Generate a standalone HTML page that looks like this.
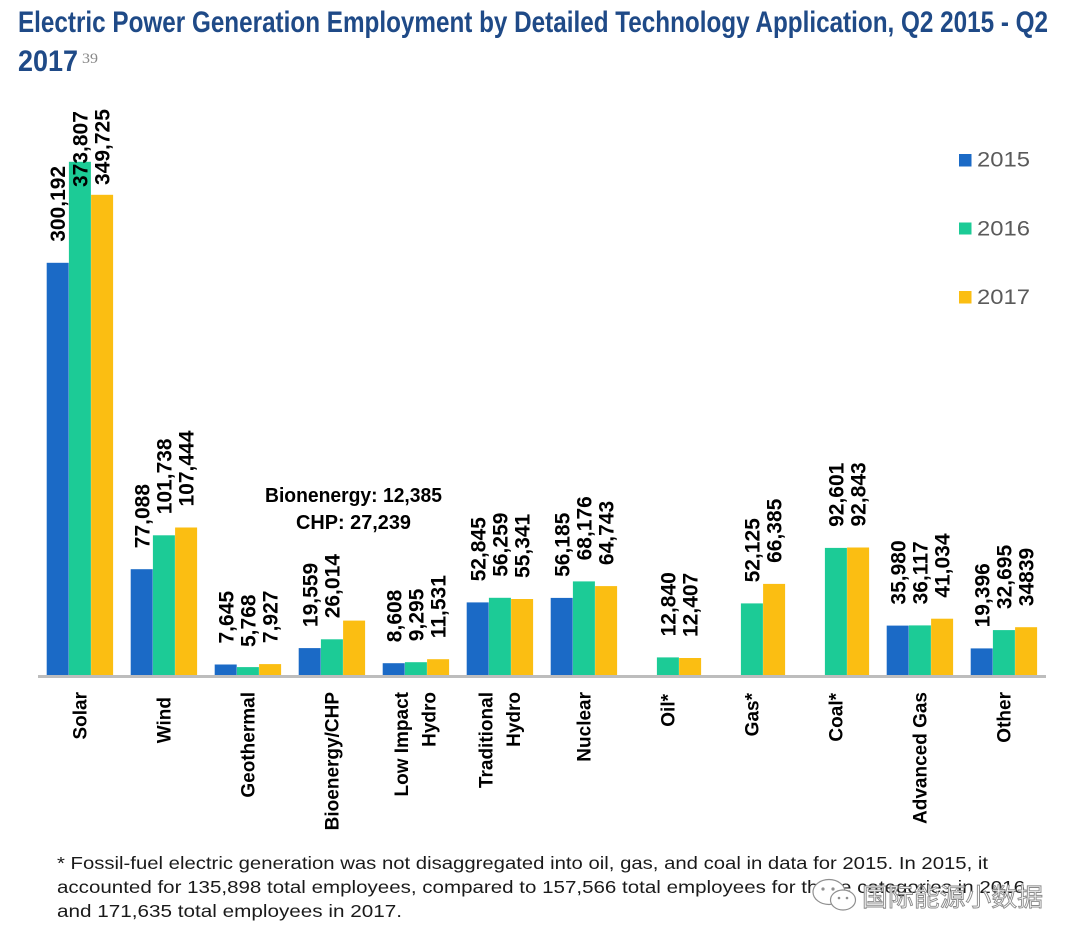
<!DOCTYPE html>
<html>
<head>
<meta charset="utf-8">
<style>
html,body{margin:0;padding:0;background:#fff;}
svg{display:block;}
.lbl{font-family:"Liberation Sans",Arial,sans-serif;font-weight:bold;font-size:21px;fill:#000;}
.cat{font-family:"Liberation Sans",Arial,sans-serif;font-weight:bold;font-size:19px;fill:#000;}
</style>
</head>
<body>
<svg width="1080" height="944" viewBox="0 0 1080 944" xmlns="http://www.w3.org/2000/svg">
<rect x="0" y="0" width="1080" height="944" fill="#fff"/>

<!-- Title -->
<text x="18" y="32" font-family="Liberation Sans, Arial, sans-serif" font-weight="bold" font-size="30" fill="#1f4a87" textLength="1030" lengthAdjust="spacingAndGlyphs">Electric Power Generation Employment by Detailed Technology Application, Q2 2015 - Q2</text>
<text x="18" y="71" font-family="Liberation Sans, Arial, sans-serif" font-weight="bold" font-size="30" fill="#1f4a87" textLength="60" lengthAdjust="spacingAndGlyphs">2017</text>
<text x="82" y="63" font-family="Liberation Serif, serif" font-size="15" fill="#888" textLength="16" lengthAdjust="spacingAndGlyphs">39</text>

<!-- Legend -->
<rect x="959" y="154" width="12.5" height="12.5" fill="#1b6ac6"/>
<text x="977" y="166.7" font-family="Liberation Sans, Arial, sans-serif" font-size="21" fill="#5a5a5a" textLength="53" lengthAdjust="spacingAndGlyphs">2015</text>
<rect x="959" y="222.5" width="12.5" height="12" fill="#1ccb96"/>
<text x="977" y="235.5" font-family="Liberation Sans, Arial, sans-serif" font-size="21" fill="#5a5a5a" textLength="53" lengthAdjust="spacingAndGlyphs">2016</text>
<rect x="959" y="291" width="12.5" height="12.5" fill="#fbbe12"/>
<text x="977" y="304" font-family="Liberation Sans, Arial, sans-serif" font-size="21" fill="#5a5a5a" textLength="53" lengthAdjust="spacingAndGlyphs">2017</text>

<!-- Bars: blue -->
<g fill="#1b6ac6">
<rect x="46.7" y="262.8" width="22" height="412.2"/>
<rect x="130.7" y="569.2" width="22" height="105.8"/>
<rect x="214.7" y="664.5" width="22" height="10.5"/>
<rect x="298.7" y="648.1" width="22" height="26.9"/>
<rect x="382.7" y="663.2" width="22" height="11.8"/>
<rect x="466.7" y="602.4" width="22" height="72.6"/>
<rect x="550.7" y="597.9" width="22" height="77.1"/>
<rect x="886.7" y="625.6" width="22" height="49.4"/>
<rect x="970.7" y="648.4" width="22" height="26.6"/>
</g>
<!-- Bars: green -->
<g fill="#1ccb96">
<rect x="68.9" y="161.8" width="22" height="513.2"/>
<rect x="152.9" y="535.3" width="22" height="139.7"/>
<rect x="236.9" y="667.1" width="22" height="7.9"/>
<rect x="320.9" y="639.3" width="22" height="35.7"/>
<rect x="404.9" y="662.2" width="22" height="12.8"/>
<rect x="488.9" y="597.8" width="22" height="77.2"/>
<rect x="572.9" y="581.4" width="22" height="93.6"/>
<rect x="656.9" y="657.4" width="22" height="17.6"/>
<rect x="740.9" y="603.4" width="22" height="71.6"/>
<rect x="824.9" y="547.9" width="22" height="127.1"/>
<rect x="908.9" y="625.4" width="22" height="49.6"/>
<rect x="992.9" y="630.1" width="22" height="44.9"/>
</g>
<!-- Bars: yellow -->
<g fill="#fbbe12">
<rect x="91.1" y="194.8" width="22" height="480.2"/>
<rect x="175.1" y="527.5" width="22" height="147.5"/>
<rect x="259.1" y="664.1" width="22" height="10.9"/>
<rect x="343.1" y="620.6" width="22" height="54.4"/>
<rect x="427.1" y="659.2" width="22" height="15.8"/>
<rect x="511.1" y="599.0" width="22" height="76.0"/>
<rect x="595.1" y="586.1" width="22" height="88.9"/>
<rect x="679.1" y="658.0" width="22" height="17.0"/>
<rect x="763.1" y="583.9" width="22" height="91.1"/>
<rect x="847.1" y="547.5" width="22" height="127.5"/>
<rect x="931.1" y="618.7" width="22" height="56.3"/>
<rect x="1015.1" y="627.2" width="22" height="47.8"/>
</g>

<!-- Axis -->
<rect x="38" y="675" width="1008" height="3" fill="#bdbdbd"/>

<!-- Data labels -->
<g class="lbl">
<text transform="translate(64.8,241.8) rotate(-90)">300,192</text>
<text transform="translate(87.5,187) rotate(-90)">373,807</text>
<text transform="translate(109.7,185) rotate(-90)">349,725</text>

<text transform="translate(149.3,548.2) rotate(-90)">77,088</text>
<text transform="translate(171.5,514.3) rotate(-90)">101,738</text>
<text transform="translate(193.7,506.5) rotate(-90)">107,444</text>

<text transform="translate(233.3,643.5) rotate(-90)">7,645</text>
<text transform="translate(255.5,647) rotate(-90)">5,768</text>
<text transform="translate(277.7,643.1) rotate(-90)">7,927</text>

<text transform="translate(317.3,627.1) rotate(-90)">19,559</text>
<text transform="translate(339.5,618.3) rotate(-90)">26,014</text>

<text transform="translate(401.3,642.2) rotate(-90)">8,608</text>
<text transform="translate(423.5,641.2) rotate(-90)">9,295</text>
<text transform="translate(445.7,638.2) rotate(-90)">11,531</text>

<text transform="translate(485.3,581.4) rotate(-90)">52,845</text>
<text transform="translate(507.5,576.8) rotate(-90)">56,259</text>
<text transform="translate(529.7,578) rotate(-90)">55,341</text>

<text transform="translate(569.3,576.9) rotate(-90)">56,185</text>
<text transform="translate(591.5,560.4) rotate(-90)">68,176</text>
<text transform="translate(613.7,565.1) rotate(-90)">64,743</text>

<text transform="translate(675.5,636.4) rotate(-90)">12,840</text>
<text transform="translate(697.7,637) rotate(-90)">12,407</text>

<text transform="translate(759.5,582.4) rotate(-90)">52,125</text>
<text transform="translate(781.7,562.9) rotate(-90)">66,385</text>

<text transform="translate(843.5,526.9) rotate(-90)">92,601</text>
<text transform="translate(865.7,526.5) rotate(-90)">92,843</text>

<text transform="translate(905.3,604.6) rotate(-90)">35,980</text>
<text transform="translate(927.5,604.4) rotate(-90)">36,117</text>
<text transform="translate(949.7,597.7) rotate(-90)">41,034</text>

<text transform="translate(989.3,627.4) rotate(-90)">19,396</text>
<text transform="translate(1011.5,609.1) rotate(-90)">32,695</text>
<text transform="translate(1033.7,606.2) rotate(-90)">34839</text>
</g>

<!-- Bioenergy annotation -->
<text x="265" y="502" font-family="Liberation Sans, Arial, sans-serif" font-weight="bold" font-size="20" fill="#000" textLength="177" lengthAdjust="spacingAndGlyphs">Bionenergy: 12,385</text>
<text x="296" y="529" font-family="Liberation Sans, Arial, sans-serif" font-weight="bold" font-size="20" fill="#000" textLength="115" lengthAdjust="spacingAndGlyphs">CHP: 27,239</text>

<!-- Category labels -->
<g class="cat" text-anchor="end">
<text transform="translate(86.5,692) rotate(-90)">Solar</text>
<text transform="translate(170.5,697) rotate(-90)">Wind</text>
<text transform="translate(254.5,692) rotate(-90)">Geothermal</text>
<text transform="translate(338.5,692) rotate(-90)">Bioenergy/CHP</text>
<text transform="translate(408,692) rotate(-90)">Low Impact</text>
<text transform="translate(435.5,692) rotate(-90)">Hydro</text>
<text transform="translate(492.3,692) rotate(-90)">Traditional</text>
<text transform="translate(519.8,692) rotate(-90)">Hydro</text>
<text transform="translate(590.5,692) rotate(-90)">Nuclear</text>
<text transform="translate(674.5,694) rotate(-90)">Oil*</text>
<text transform="translate(758.5,693) rotate(-90)">Gas*</text>
<text transform="translate(842.5,693) rotate(-90)">Coal*</text>
<text transform="translate(926.5,692) rotate(-90)">Advanced Gas</text>
<text transform="translate(1010.5,692) rotate(-90)">Other</text>
</g>

<!-- Footnote -->
<g font-family="Liberation Sans, Arial, sans-serif" font-size="17.5" fill="#1a1a1a">
<text x="57" y="869" textLength="931" lengthAdjust="spacingAndGlyphs">* Fossil-fuel electric generation was not disaggregated into oil, gas, and coal in data for 2015. In 2015, it</text>
<text x="57" y="893" textLength="968" lengthAdjust="spacingAndGlyphs">accounted for 135,898 total employees, compared to 157,566 total employees for these categories in 2016</text>
<text x="57" y="917" textLength="345" lengthAdjust="spacingAndGlyphs">and 171,635 total employees in 2017.</text>
</g>

<!-- Watermark -->
<g fill="#fff" stroke="#8f8f8f" stroke-width="1.2">
<ellipse cx="829" cy="892" rx="16" ry="12.5"/>
<ellipse cx="843" cy="900" rx="12.5" ry="10"/>
</g>
<g fill="#8f8f8f">
<circle cx="823" cy="889" r="1.6"/>
<circle cx="833" cy="889" r="1.6"/>
<circle cx="839" cy="898" r="1.3"/>
<circle cx="847" cy="898" r="1.3"/>
</g>
<text x="862" y="906" font-family="Liberation Sans, 'Noto Sans CJK SC', 'WenQuanYi Zen Hei', sans-serif" font-size="25" fill="#fff" stroke="#8a8a8a" stroke-width="0.9" textLength="181" lengthAdjust="spacingAndGlyphs">国际能源小数据</text>
</svg>
</body>
</html>
